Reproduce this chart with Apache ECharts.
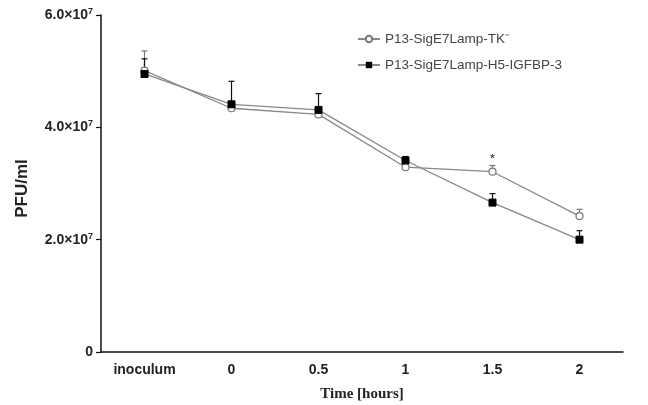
<!DOCTYPE html>
<html>
<head>
<meta charset="utf-8">
<script src="https://cdn.jsdelivr.net/npm/echarts@6/dist/echarts.min.js"></script>
<style>
  html, body { margin: 0; padding: 0; background: #fff; }
  #chart { width: 648px; height: 405px; }
</style>
</head>
<body>
<div id="chart"></div>
<script>
// categories on the x axis
const timeLabels = ['inoculum', '0', '0.5', '1', '1.5', '2'];

// PFU/ml means
const tkMeans = [5.01e7, 4.34e7, 4.23e7, 3.29e7, 3.21e7, 2.42e7];
const igfMeans = [4.95e7, 4.41e7, 4.31e7, 3.41e7, 2.66e7, 2.0e7];

// upper error (SD) sizes
const tkErr = [0.35e7, 0.05e7, 0.05e7, 0.03e7, 0.11e7, 0.12e7];
const igfErr = [0.27e7, 0.41e7, 0.29e7, 0.07e7, 0.16e7, 0.16e7];

// significance marks above the TK series
const tkSig = ['', '', '', '', '*', ''];

const chart = echarts.init(document.getElementById('chart'));

function errorSeries(name, means, errs, color, marks) {
  return {
    name: name + ' err',
    type: 'custom',
    z: 1,
    data: means.map((m, i) => [i, m, m + errs[i]]),
    renderItem: function (params, api) {
      const lo = api.coord([api.value(0), api.value(1)]);
      const hi = api.coord([api.value(0), api.value(2)]);
      const children = [
        { type: 'line', shape: { x1: lo[0], y1: lo[1], x2: hi[0], y2: hi[1] }, style: { stroke: color, lineWidth: 1.2 } },
        { type: 'line', shape: { x1: hi[0] - 3, y1: hi[1], x2: hi[0] + 3, y2: hi[1] }, style: { stroke: color, lineWidth: 1.2 } }
      ];
      const mark = marks ? marks[params.dataIndex] : '';
      if (mark) {
        children.push({
          type: 'text',
          style: { text: mark, x: hi[0], y: hi[1] - 1, align: 'center', verticalAlign: 'bottom', fill: '#444', font: 'bold 11px "Liberation Sans"' }
        });
      }
      return { type: 'group', children: children };
    }
  };
}

const supFmt = function (v) {
  if (v === 0) return '{b|0}';
  return '{b|' + (v / 1e7).toFixed(1) + '×10}{s|7}';
};

const option = {
  animation: false,
  backgroundColor: '#fff',
  grid: { left: 101, right: 25, top: 15, bottom: 53, outerBoundsMode: 'none', containLabel: false },
  legend: {
    data: ['P13-SigE7Lamp-TK⁻', 'P13-SigE7Lamp-H5-IGFBP-3'],
    orient: 'vertical',
    left: 352,
    top: 27,
    itemGap: 12,
    itemWidth: 22,
    itemHeight: 8,
    textStyle: { fontFamily: 'Liberation Sans', fontSize: 13.5, color: '#444' }
  },
  xAxis: {
    type: 'category',
    data: timeLabels,
    boundaryGap: true,
    name: 'Time [hours]',
    nameLocation: 'middle',
    nameGap: 35,
    nameTextStyle: { fontFamily: 'Liberation Serif', fontWeight: 'bold', fontSize: 15, color: '#222' },
    axisLine: { lineStyle: { color: '#111', width: 1.5 } },
    axisTick: { alignWithLabel: true, length: 5, lineStyle: { color: '#111', width: 1.2 } },
    axisLabel: { fontFamily: 'Liberation Sans', fontWeight: 'bold', fontSize: 14, color: '#222', margin: 11 }
  },
  yAxis: {
    type: 'value',
    min: 0,
    max: 6e7,
    interval: 2e7,
    name: 'PFU/ml',
    nameLocation: 'middle',
    nameGap: 70,
    nameRotate: 90,
    nameTextStyle: { fontFamily: 'Liberation Sans', fontWeight: 'bold', fontSize: 17, color: '#222', padding: [0, 10, 0, 0] },
    axisLine: { show: true, lineStyle: { color: '#111', width: 1.5 } },
    axisTick: { show: true, length: 5, lineStyle: { color: '#111', width: 1.2 } },
    splitLine: { show: false },
    axisLabel: {
      margin: 8,
      formatter: supFmt,
      rich: {
        b: { fontFamily: 'Liberation Sans', fontWeight: 'bold', fontSize: 14, color: '#222' },
        s: { fontFamily: 'Liberation Sans', fontWeight: 'bold', fontSize: 9, color: '#222', verticalAlign: 'top', padding: [0, 0, 7, 0] }
      }
    }
  },
  series: [
    errorSeries('tk', tkMeans, tkErr, '#777', tkSig),
    errorSeries('igf', igfMeans, igfErr, '#111', null),
    {
      name: 'P13-SigE7Lamp-TK⁻',
      type: 'line',
      z: 3,
      data: tkMeans,
      symbol: 'circle',
      symbolSize: 7,
      itemStyle: { color: '#fff', borderColor: '#777', borderWidth: 1.2 },
      lineStyle: { color: '#888', width: 1.3 }
    },
    {
      name: 'P13-SigE7Lamp-H5-IGFBP-3',
      type: 'line',
      z: 4,
      data: igfMeans,
      symbol: 'rect',
      symbolSize: 7,
      itemStyle: { color: '#000', borderColor: '#000' },
      lineStyle: { color: '#888', width: 1.3 }
    }
  ]
};

chart.setOption(option);
</script>
</body>
</html>
